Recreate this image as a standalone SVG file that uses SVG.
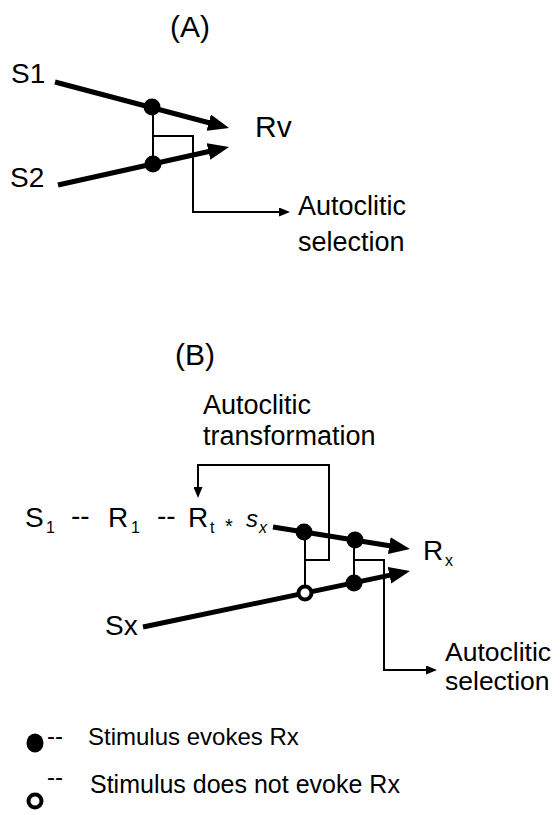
<svg xmlns="http://www.w3.org/2000/svg" width="560" height="815" viewBox="0 0 560 815">
<style>
text{font-family:"Liberation Sans",Arial,sans-serif;fill:#000}
.thick{stroke:#000;stroke-width:5;fill:none;marker-end:url(#bigArrow)}
.thin{stroke:#000;stroke-width:2;fill:none}
.thinA{stroke:#000;stroke-width:2;fill:none;marker-end:url(#smallArrow)}
.dot{fill:#000}
.open{fill:#fff;stroke:#000;stroke-width:4}
.t28{font-size:28px}
.t27{font-size:27px}
.sub{font-size:16px}
.leg{font-size:24px}
</style>
<defs>
<marker id="bigArrow" markerUnits="userSpaceOnUse" markerWidth="21" markerHeight="17" refX="13" refY="8.5" orient="auto">
<path d="M0,0 L21,8.5 L0,17 z" fill="#000"/>
</marker>
<marker id="smallArrow" markerUnits="userSpaceOnUse" markerWidth="11" markerHeight="9" refX="8" refY="4.5" orient="auto">
<path d="M0,0 L11,4.5 L0,9 z" fill="#000"/>
</marker>
</defs>

<g id="connectors">
<!-- Panel A -->
<path class="thick" d="M55,82 L221.3,126"/>
<path class="thick" d="M58,185 L221.2,148.7"/>
<path class="thin" d="M153,107 L153,164"/>
<path class="thinA" d="M153,136 L193,136 L193,212 L287,212"/>
<!-- Panel B -->
<path class="thick" d="M273,527 L402.1,547.7"/>
<path class="thick" d="M143,627 L402.2,572.6"/>
<path class="thin" d="M305,532 L305,593"/>
<path class="thinA" d="M305,560 L329,560 L329,465 L198,465 L198,495"/>
<path class="thin" d="M354,540 L354,583"/>
<path class="thinA" d="M354,560 L384,560 L384,670 L434,670"/>
</g>

<g id="panelA-title"><text x="190" y="37" text-anchor="middle" style="font-size:30px">(A)</text></g>
<g id="S1"><text class="t28" x="11" y="83">S1</text></g>
<g id="S2"><text class="t28" x="10" y="187">S2</text></g>
<g id="Rv"><text x="255" y="137" style="font-size:30px">Rv</text></g>
<g id="dotA1"><circle class="dot" cx="152" cy="107" r="8.5"/></g>
<g id="dotA2"><circle class="dot" cx="153" cy="164" r="8.5"/></g>
<g id="autoSelA"><text class="t27" x="298" y="215">Autoclitic</text><text class="t27" x="298" y="251">selection</text></g>

<g id="panelB-title"><text x="195" y="365" text-anchor="middle" style="font-size:30px">(B)</text></g>
<g id="autoTrans"><text class="t27" x="203" y="414">Autoclitic</text><text class="t27" x="203" y="445">transformation</text></g>
<g id="chain">
<text class="t28" x="25" y="527">S</text><text class="sub" x="46" y="533">1</text>
<text class="t28" x="71" y="525">--</text>
<text class="t28" x="108" y="527">R</text><text class="sub" x="131" y="533">1</text>
<text class="t28" x="157" y="525">--</text>
<text class="t28" x="188" y="527">R</text><text class="sub" x="210" y="533">t</text>
<text x="225" y="533" style="font-size:20px">*</text>
<text x="246" y="527" style="font-size:24px;font-style:italic">s</text><text class="sub" x="259" y="533" style="font-style:italic">x</text>
</g>
<g id="Rx"><text class="t28" x="423" y="560">R</text><text class="sub" x="445" y="566">x</text></g>
<g id="Sx"><text class="t28" x="105" y="635">Sx</text></g>
<g id="dotB1"><circle class="dot" cx="304" cy="532" r="8.5"/></g>
<g id="dotB2"><circle class="dot" cx="355" cy="540" r="8.5"/></g>
<g id="openB"><circle class="open" cx="305" cy="593" r="6.5"/></g>
<g id="dotB3"><circle class="dot" cx="354" cy="583" r="8.5"/></g>
<g id="autoSelB"><text x="445" y="661" style="font-size:26.5px">Autoclitic</text><text x="445" y="690" style="font-size:26.5px">selection</text></g>

<g id="legend1"><ellipse class="dot" cx="35" cy="743" rx="8.5" ry="9.5"/><text class="leg" x="47" y="744">--</text><text class="leg" x="88" y="745">Stimulus evokes Rx</text></g>
<g id="legend2"><circle class="open" cx="35" cy="801" r="6.5"/><text class="leg" x="47" y="785">--</text><text x="90" y="793" style="font-size:25px">Stimulus does not evoke Rx</text></g>
</svg>
